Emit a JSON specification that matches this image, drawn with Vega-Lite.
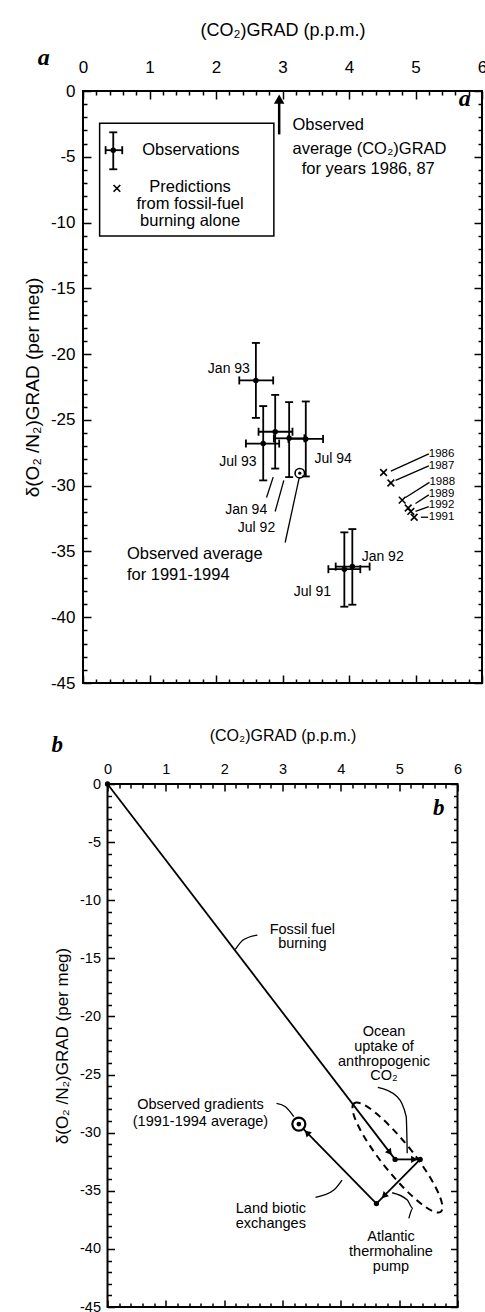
{
  "$schema": "https://vega.github.io/schema/vega-lite/v6.json",
  "background": "white",
  "padding": {"left": 22, "top": 20, "right": 0, "bottom": 0},
  "align": "all",
  "bounds": "flush",
  "center": true,
  "spacing": 101,
  "config": {
    "view": {"stroke": "black", "strokeWidth": 2},
    "axis": {"domain": false, "grid": false, "tickColor": "black", "tickWidth": 1.5, "labelColor": "black", "titleColor": "black", "labelFont": "Liberation Sans", "titleFont": "Liberation Sans", "titleFontWeight": "normal", "labelOverlap": false, "labelFlush": false, "zindex": 1},
    "text": {"font": "Liberation Sans", "color": "black"}
  },
  "vconcat": [
    {
      "width": 399,
      "height": 592,
      "layer": [
        {
          "data": {"values": [
            {"label": "Jan 93", "x": 2.60, "y": -22.0, "xlo": 2.35, "xhi": 2.86, "ylo": -24.85, "yhi": -19.15},
            {"label": "Jul 93", "x": 2.71, "y": -26.8, "xlo": 2.45, "xhi": 2.95, "ylo": -29.6, "yhi": -23.95},
            {"label": "Jan 94", "x": 2.89, "y": -25.9, "xlo": 2.64, "xhi": 3.15, "ylo": -28.7, "yhi": -23.1},
            {"label": "Jul 92", "x": 3.10, "y": -26.4, "xlo": 2.87, "xhi": 3.33, "ylo": -29.35, "yhi": -23.65},
            {"label": "Jul 94", "x": 3.35, "y": -26.45, "xlo": 3.09, "xhi": 3.61, "ylo": -29.3, "yhi": -23.6},
            {"label": "Jul 91", "x": 3.93, "y": -36.35, "xlo": 3.69, "xhi": 4.17, "ylo": -39.2, "yhi": -33.55},
            {"label": "Jan 92", "x": 4.05, "y": -36.15, "xlo": 3.80, "xhi": 4.31, "ylo": -39.05, "yhi": -33.3},
            {"label": "legend", "x": 0.455, "y": -4.5, "xlo": 0.34, "xhi": 0.59, "ylo": -5.95, "yhi": -3.14}
          ]},
          "layer": [
            {
              "mark": {"type": "rule", "strokeWidth": 1.8, "color": "black"},
              "encoding": {
                "x": {"field": "x", "type": "quantitative", "scale": {"domain": [0, 6], "nice": false, "zero": false},
                  "axis": {"orient": "top", "values": [0, 1, 2, 3, 4, 5, 6], "labelExpr": "'' + datum.value", "tickSize": -8,
                    "labelPadding": 22.5, "labelFontSize": 17, "title": "(CO₂)GRAD (p.p.m.)", "titleFontSize": 18, "titlePadding": 19.5}},
                "y": {"field": "ylo", "type": "quantitative", "scale": {"domain": [-45, 0], "nice": false, "zero": false},
                  "axis": {"orient": "left", "values": [-45, -40, -35, -30, -25, -20, -15, -10, -5, 0], "labelExpr": "'' + datum.value", "tickSize": -8,
                    "labelPadding": 16, "labelFontSize": 17, "title": "δ(O₂ /N₂)GRAD (per meg)", "titleFontSize": 19, "titlePadding": 8}},
                "y2": {"field": "yhi"}
              }
            },
            {
              "mark": {"type": "rule", "strokeWidth": 1.8, "color": "black"},
              "encoding": {
                "x": {"field": "xlo", "type": "quantitative", "scale": {"domain": [0, 6], "nice": false, "zero": false},
                  "axis": {"orient": "bottom", "values": [0, 1, 2, 3, 4, 5, 6], "labels": false, "title": null, "tickSize": -8}},
                "x2": {"field": "xhi"},
                "y": {"field": "y", "type": "quantitative", "scale": {"domain": [-45, 0], "nice": false, "zero": false},
                  "axis": {"orient": "right", "values": [-45, -40, -35, -30, -25, -20, -15, -10, -5, 0], "labels": false, "title": null, "tickSize": -8}}
              }
            },
            {
              "mark": {"type": "point", "shape": "stroke", "size": 64, "strokeWidth": 1.8, "color": "black", "opacity": 1},
              "encoding": {
                "x": {"field": "x", "type": "quantitative", "scale": {"domain": [0, 6], "nice": false, "zero": false},
                  "axis": {"orient": "top", "values": [0.2,0.4,0.6,0.8,1.2,1.4,1.6,1.8,2.2,2.4,2.6,2.8,3.2,3.4,3.6,3.8,4.2,4.4,4.6,4.8,5.2,5.4,5.6,5.8], "labels": false, "title": null, "tickSize": -4}},
                "y": {"field": "yhi", "type": "quantitative", "scale": {"domain": [-45, 0], "nice": false, "zero": false},
                  "axis": {"orient": "left", "values": [-44,-43,-42,-41,-39,-38,-37,-36,-34,-33,-32,-31,-29,-28,-27,-26,-24,-23,-22,-21,-19,-18,-17,-16,-14,-13,-12,-11,-9,-8,-7,-6,-4,-3,-2,-1], "labels": false, "title": null, "tickSize": -4}}
              }
            },
            {
              "mark": {"type": "point", "shape": "stroke", "size": 64, "strokeWidth": 1.8, "color": "black", "opacity": 1},
              "encoding": {
                "x": {"field": "x", "type": "quantitative", "scale": {"domain": [0, 6], "nice": false, "zero": false},
                  "axis": {"orient": "bottom", "values": [0.2,0.4,0.6,0.8,1.2,1.4,1.6,1.8,2.2,2.4,2.6,2.8,3.2,3.4,3.6,3.8,4.2,4.4,4.6,4.8,5.2,5.4,5.6,5.8], "labels": false, "title": null, "tickSize": -4}},
                "y": {"field": "ylo", "type": "quantitative", "scale": {"domain": [-45, 0], "nice": false, "zero": false},
                  "axis": {"orient": "right", "values": [-44,-43,-42,-41,-39,-38,-37,-36,-34,-33,-32,-31,-29,-28,-27,-26,-24,-23,-22,-21,-19,-18,-17,-16,-14,-13,-12,-11,-9,-8,-7,-6,-4,-3,-2,-1], "labels": false, "title": null, "tickSize": -4}}
              }
            },
            {
              "mark": {"type": "point", "shape": "stroke", "angle": 90, "size": 64, "strokeWidth": 1.8, "color": "black", "opacity": 1},
              "encoding": {"x": {"field": "xlo", "type": "quantitative", "axis": null}, "y": {"field": "y", "type": "quantitative", "axis": null}}
            },
            {
              "mark": {"type": "point", "shape": "stroke", "angle": 90, "size": 64, "strokeWidth": 1.8, "color": "black", "opacity": 1},
              "encoding": {"x": {"field": "xhi", "type": "quantitative", "axis": null}, "y": {"field": "y", "type": "quantitative", "axis": null}}
            },
            {
              "mark": {"type": "point", "shape": "circle", "size": 30, "filled": true, "color": "black", "opacity": 1},
              "encoding": {"x": {"field": "x", "type": "quantitative", "axis": null}, "y": {"field": "y", "type": "quantitative", "axis": null}}
            }
          ]
        },
        {
          "data": {"values": [
            {"year": "1986", "x": 4.52, "y": -29.0},
            {"year": "1987", "x": 4.63, "y": -29.8},
            {"year": "1988", "x": 4.80, "y": -31.1},
            {"year": "1989", "x": 4.89, "y": -31.7},
            {"year": "1992", "x": 4.93, "y": -31.96},
            {"year": "1991", "x": 4.98, "y": -32.4},
            {"year": "legend", "x": 0.51, "y": -7.4}
          ]},
          "mark": {"type": "point", "shape": "M -1 -1 L 1 1 M -1 1 L 1 -1", "filled": false, "size": 45, "strokeWidth": 1.6, "color": "black", "opacity": 1},
          "encoding": {"x": {"field": "x", "type": "quantitative", "axis": null}, "y": {"field": "y", "type": "quantitative", "axis": null}}
        },
        {
          "data": {"values": [
            {"x": 4.63, "y": -28.9, "x2": 5.20, "y2": -27.58},
            {"x": 4.70, "y": -29.6, "x2": 5.20, "y2": -28.5},
            {"x": 4.85, "y": -30.9, "x2": 5.21, "y2": -29.75},
            {"x": 5.00, "y": -31.35, "x2": 5.20, "y2": -30.7},
            {"x": 5.00, "y": -31.95, "x2": 5.20, "y2": -31.6},
            {"x": 5.08, "y": -32.4, "x2": 5.19, "y2": -32.4},
            {"x": 2.76, "y": -30.9, "x2": 2.86, "y2": -29.35},
            {"x": 2.89, "y": -31.96, "x2": 3.02, "y2": -29.6},
            {"x": 3.04, "y": -34.32, "x2": 3.25, "y2": -29.43}
          ]},
          "mark": {"type": "rule", "strokeWidth": 1.3, "color": "black"},
          "encoding": {
            "x": {"field": "x", "type": "quantitative", "axis": null}, "y": {"field": "y", "type": "quantitative", "axis": null},
            "x2": {"field": "x2"}, "y2": {"field": "y2"}
          }
        },
        {
          "data": {"values": [{"x": 3.26, "y": -29.05}]},
          "layer": [
            {"mark": {"type": "point", "shape": "circle", "size": 90, "filled": false, "strokeWidth": 1.6, "color": "black", "opacity": 1},
             "encoding": {"x": {"field": "x", "type": "quantitative", "axis": null}, "y": {"field": "y", "type": "quantitative", "axis": null}}},
            {"mark": {"type": "point", "shape": "circle", "size": 10, "filled": true, "color": "black", "opacity": 1},
             "encoding": {"x": {"field": "x", "type": "quantitative", "axis": null}, "y": {"field": "y", "type": "quantitative", "axis": null}}}
          ]
        },
        {
          "data": {"values": [{"x": 0.25, "y": -2.45, "x2": 2.87, "y2": -11.02}]},
          "mark": {"type": "rect", "filled": false, "stroke": "black", "strokeWidth": 1.5},
          "encoding": {"x": {"field": "x", "type": "quantitative", "axis": null}, "y": {"field": "y", "type": "quantitative", "axis": null}, "x2": {"field": "x2"}, "y2": {"field": "y2"}}
        },
        {
          "data": {"values": [{"x": 2.95, "y": -3.3, "y2": -0.9}]},
          "mark": {"type": "rule", "strokeWidth": 2.5, "color": "black"},
          "encoding": {"x": {"field": "x", "type": "quantitative", "axis": null}, "y": {"field": "y", "type": "quantitative", "axis": null}, "y2": {"field": "y2"}}
        },
        {
          "data": {"values": [{"x": 2.95, "y": -0.62}]},
          "mark": {"type": "point", "shape": "triangle-up", "size": 110, "filled": true, "color": "black", "opacity": 1},
          "encoding": {"x": {"field": "x", "type": "quantitative", "axis": null}, "y": {"field": "y", "type": "quantitative", "axis": null}}
        },
        {
          "data": {"values": [
            {"text": "Jan 93", "x": 2.51, "y": -21.15},
            {"text": "Jul 93", "x": 2.61, "y": -28.2},
            {"text": "Jan 94", "x": 2.77, "y": -31.85},
            {"text": "Jul 92", "x": 2.89, "y": -33.2},
            {"text": "Jul 91", "x": 3.73, "y": -38.05}
          ]},
          "mark": {"type": "text", "align": "right", "baseline": "middle", "fontSize": 14},
          "encoding": {"x": {"field": "x", "type": "quantitative", "axis": null}, "y": {"field": "y", "type": "quantitative", "axis": null}, "text": {"field": "text"}}
        },
        {
          "data": {"values": [
            {"text": "Jul 94", "x": 3.48, "y": -27.95},
            {"text": "Jan 92", "x": 4.19, "y": -35.45}
          ]},
          "mark": {"type": "text", "align": "left", "baseline": "middle", "fontSize": 14},
          "encoding": {"x": {"field": "x", "type": "quantitative", "axis": null}, "y": {"field": "y", "type": "quantitative", "axis": null}, "text": {"field": "text"}}
        },
        {
          "data": {"values": [
            {"text": "1986", "x": 5.20, "y": -27.58},
            {"text": "1987", "x": 5.20, "y": -28.5},
            {"text": "1988", "x": 5.21, "y": -29.75},
            {"text": "1989", "x": 5.20, "y": -30.6},
            {"text": "1992", "x": 5.20, "y": -31.5},
            {"text": "1991", "x": 5.20, "y": -32.4}
          ]},
          "mark": {"type": "text", "align": "left", "baseline": "middle", "fontSize": 11.5},
          "encoding": {"x": {"field": "x", "type": "quantitative", "axis": null}, "y": {"field": "y", "type": "quantitative", "axis": null}, "text": {"field": "text"}}
        },
        {
          "data": {"values": [
            {"text": "Observed average", "x": 0.66, "y": -35.2},
            {"text": "for 1991-1994", "x": 0.66, "y": -36.8},
            {"text": "Observations", "x": 0.89, "y": -4.48},
            {"text": "Observed", "x": 3.15, "y": -2.6},
            {"text": "average (CO₂)GRAD", "x": 3.15, "y": -4.4},
            {"text": "for years 1986, 87", "x": 3.29, "y": -5.9}
          ]},
          "mark": {"type": "text", "align": "left", "baseline": "middle", "fontSize": 16.5},
          "encoding": {"x": {"field": "x", "type": "quantitative", "axis": null}, "y": {"field": "y", "type": "quantitative", "axis": null}, "text": {"field": "text"}}
        },
        {
          "data": {"values": [
            {"text": "Predictions", "x": 1.61, "y": -7.3},
            {"text": "from fossil-fuel", "x": 1.61, "y": -8.6},
            {"text": "burning alone", "x": 1.61, "y": -9.9}
          ]},
          "mark": {"type": "text", "align": "center", "baseline": "middle", "fontSize": 16.5},
          "encoding": {"x": {"field": "x", "type": "quantitative", "axis": null}, "y": {"field": "y", "type": "quantitative", "axis": null}, "text": {"field": "text"}}
        },
        {
          "data": {"values": [
            {"text": "a", "x": 5.74, "y": -0.6},
            {"text": "a", "x": -0.59, "y": 2.5}
          ]},
          "mark": {"type": "text", "align": "center", "baseline": "middle", "fontSize": 24, "font": "Liberation Serif", "fontStyle": "italic", "fontWeight": "bold"},
          "encoding": {"x": {"field": "x", "type": "quantitative", "axis": null}, "y": {"field": "y", "type": "quantitative", "axis": null}, "text": {"field": "text"}}
        }
      ],
      "resolve": {"axis": {"x": "independent", "y": "independent"}}
    },
    {
      "width": 350,
      "height": 523,
      "layer": [
        {
          "data": {"values": [
            {"step": "Fossil fuel burning", "x": 0, "y": 0, "x2": 4.93, "y2": -32.3},
            {"step": "Ocean uptake", "x": 4.93, "y": -32.3, "x2": 5.36, "y2": -32.3},
            {"step": "Atlantic thermohaline pump", "x": 5.36, "y": -32.3, "x2": 4.61, "y2": -36.1},
            {"step": "Land biotic exchanges", "x": 4.61, "y": -36.1, "x2": 3.36, "y2": -29.7}
          ]},
          "mark": {"type": "rule", "strokeWidth": 1.8, "color": "black"},
          "encoding": {
            "x": {"field": "x", "type": "quantitative", "scale": {"domain": [0, 6], "nice": false, "zero": false},
              "axis": {"orient": "top", "values": [0, 1, 2, 3, 4, 5, 6], "labelExpr": "'' + datum.value", "tickSize": -7,
                "labelPadding": 15, "labelFontSize": 14.5, "title": "(CO₂)GRAD (p.p.m.)", "titleFontSize": 16, "titlePadding": 18}},
            "y": {"field": "y", "type": "quantitative", "scale": {"domain": [-45, 0], "nice": false, "zero": false},
              "axis": {"orient": "left", "values": [-45, -40, -35, -30, -25, -20, -15, -10, -5, 0], "labelExpr": "'' + datum.value", "tickSize": -7,
                "labelPadding": 14, "labelFontSize": 14.5, "title": "δ(O₂ /N₂)GRAD (per meg)", "titleFontSize": 17, "titlePadding": 8}},
            "x2": {"field": "x2"}, "y2": {"field": "y2"}
          }
        },
        {
          "data": {"values": [
            {"x": 0, "y": 0}, {"x": 4.93, "y": -32.3}, {"x": 5.36, "y": -32.3}, {"x": 4.61, "y": -36.1}
          ]},
          "mark": {"type": "point", "shape": "circle", "size": 28, "filled": true, "color": "black", "opacity": 1},
          "encoding": {
            "x": {"field": "x", "type": "quantitative", "scale": {"domain": [0, 6], "nice": false, "zero": false},
              "axis": {"orient": "bottom", "values": [0, 1, 2, 3, 4, 5, 6], "labels": false, "title": null, "tickSize": -7}},
            "y": {"field": "y", "type": "quantitative", "scale": {"domain": [-45, 0], "nice": false, "zero": false},
              "axis": {"orient": "right", "values": [-45, -40, -35, -30, -25, -20, -15, -10, -5, 0], "labels": false, "title": null, "tickSize": -7}}
          }
        },
        {
          "data": {"values": [{"x": 4.84, "y": -31.71}]},
          "mark": {"type": "point", "shape": "triangle-up", "angle": 142.5, "size": 55, "filled": true, "color": "black", "opacity": 1},
          "encoding": {
            "x": {"field": "x", "type": "quantitative", "scale": {"domain": [0, 6], "nice": false, "zero": false},
              "axis": {"orient": "top", "values": [0.2,0.4,0.6,0.8,1.2,1.4,1.6,1.8,2.2,2.4,2.6,2.8,3.2,3.4,3.6,3.8,4.2,4.4,4.6,4.8,5.2,5.4,5.6,5.8], "labels": false, "title": null, "tickSize": -4}},
            "y": {"field": "y", "type": "quantitative", "scale": {"domain": [-45, 0], "nice": false, "zero": false},
              "axis": {"orient": "left", "values": [-44,-43,-42,-41,-39,-38,-37,-36,-34,-33,-32,-31,-29,-28,-27,-26,-24,-23,-22,-21,-19,-18,-17,-16,-14,-13,-12,-11,-9,-8,-7,-6,-4,-3,-2,-1], "labels": false, "title": null, "tickSize": -4}}
          }
        },
        {
          "data": {"values": [{"x": 5.26, "y": -32.3}]},
          "mark": {"type": "point", "shape": "triangle-up", "angle": 90, "size": 55, "filled": true, "color": "black", "opacity": 1},
          "encoding": {
            "x": {"field": "x", "type": "quantitative", "scale": {"domain": [0, 6], "nice": false, "zero": false},
              "axis": {"orient": "bottom", "values": [0.2,0.4,0.6,0.8,1.2,1.4,1.6,1.8,2.2,2.4,2.6,2.8,3.2,3.4,3.6,3.8,4.2,4.4,4.6,4.8,5.2,5.4,5.6,5.8], "labels": false, "title": null, "tickSize": -4}},
            "y": {"field": "y", "type": "quantitative", "scale": {"domain": [-45, 0], "nice": false, "zero": false},
              "axis": {"orient": "right", "values": [-44,-43,-42,-41,-39,-38,-37,-36,-34,-33,-32,-31,-29,-28,-27,-26,-24,-23,-22,-21,-19,-18,-17,-16,-14,-13,-12,-11,-9,-8,-7,-6,-4,-3,-2,-1], "labels": false, "title": null, "tickSize": -4}}
          }
        },
        {
          "data": {"values": [{"x": 4.74, "y": -35.44}]},
          "mark": {"type": "point", "shape": "triangle-up", "angle": 224.7, "size": 55, "filled": true, "color": "black", "opacity": 1},
          "encoding": {"x": {"field": "x", "type": "quantitative", "axis": null}, "y": {"field": "y", "type": "quantitative", "axis": null}}
        },
        {
          "data": {"values": [{"x": 3.42, "y": -30.0}]},
          "mark": {"type": "point", "shape": "triangle-up", "angle": 315.3, "size": 55, "filled": true, "color": "black", "opacity": 1},
          "encoding": {"x": {"field": "x", "type": "quantitative", "axis": null}, "y": {"field": "y", "type": "quantitative", "axis": null}}
        },
        {
          "data": {"values": [{"x": 4.97, "y": -32.14}]},
          "mark": {"type": "point", "shape": "M -1 0 A 1 0.22 0 1 1 1 0 A 1 0.22 0 1 1 -1 0 Z", "angle": 51.3, "size": 19265, "filled": false, "strokeWidth": 2, "strokeDash": [7, 5], "color": "black", "opacity": 1},
          "encoding": {"x": {"field": "x", "type": "quantitative", "axis": null}, "y": {"field": "y", "type": "quantitative", "axis": null}}
        },
        {
          "data": {"values": [
            {"curve": "fossil", "i": 0, "x": 2.19, "y": -14.24},
            {"curve": "fossil", "i": 1, "x": 2.33, "y": -13.4},
            {"curve": "fossil", "i": 2, "x": 2.57, "y": -13.0},
            {"curve": "ocean", "i": 0, "x": 4.634, "y": -26.1},
            {"curve": "ocean", "i": 1, "x": 4.967, "y": -26.91},
            {"curve": "ocean", "i": 2, "x": 5.121, "y": -28.63},
            {"curve": "ocean", "i": 3, "x": 5.138, "y": -31.78},
            {"curve": "observed", "i": 0, "x": 2.897, "y": -27.48},
            {"curve": "observed", "i": 1, "x": 3.05, "y": -27.77},
            {"curve": "observed", "i": 2, "x": 3.194, "y": -28.63},
            {"curve": "land", "i": 0, "x": 3.566, "y": -35.57},
            {"curve": "land", "i": 1, "x": 3.88, "y": -34.94},
            {"curve": "land", "i": 2, "x": 4.02, "y": -34.08},
            {"curve": "atlantic", "i": 0, "x": 4.88, "y": -35.17},
            {"curve": "atlantic", "i": 1, "x": 5.14, "y": -35.8},
            {"curve": "atlantic", "i": 2, "x": 5.234, "y": -36.52},
            {"curve": "atlantic", "i": 3, "x": 5.166, "y": -37.38}
          ]},
          "mark": {"type": "line", "interpolate": "monotone", "strokeWidth": 1.3, "color": "black"},
          "encoding": {
            "x": {"field": "x", "type": "quantitative", "axis": null}, "y": {"field": "y", "type": "quantitative", "axis": null},
            "detail": {"field": "curve"}, "order": {"field": "i"}
          }
        },
        {
          "data": {"values": [{"x": 3.28, "y": -29.26}]},
          "layer": [
            {"mark": {"type": "point", "shape": "circle", "size": 170, "filled": false, "strokeWidth": 2.2, "color": "black", "opacity": 1},
             "encoding": {"x": {"field": "x", "type": "quantitative", "axis": null}, "y": {"field": "y", "type": "quantitative", "axis": null}}},
            {"mark": {"type": "point", "shape": "circle", "size": 22, "filled": true, "color": "black", "opacity": 1},
             "encoding": {"x": {"field": "x", "type": "quantitative", "axis": null}, "y": {"field": "y", "type": "quantitative", "axis": null}}}
          ]
        },
        {
          "data": {"values": [
            {"text": "Fossil fuel", "x": 3.34, "y": -12.56},
            {"text": "burning", "x": 3.34, "y": -13.8},
            {"text": "Ocean", "x": 4.74, "y": -21.3},
            {"text": "uptake of", "x": 4.74, "y": -22.6},
            {"text": "anthropogenic", "x": 4.74, "y": -23.9},
            {"text": "CO₂", "x": 4.74, "y": -25.1},
            {"text": "Observed gradients", "x": 1.594, "y": -27.62},
            {"text": "(1991-1994 average)", "x": 1.594, "y": -29.06},
            {"text": "Land biotic", "x": 2.80, "y": -36.6},
            {"text": "exchanges", "x": 2.80, "y": -37.87},
            {"text": "Atlantic", "x": 4.86, "y": -38.95},
            {"text": "thermohaline", "x": 4.86, "y": -40.25},
            {"text": "pump", "x": 4.86, "y": -41.55}
          ]},
          "mark": {"type": "text", "align": "center", "baseline": "middle", "fontSize": 14.5},
          "encoding": {"x": {"field": "x", "type": "quantitative", "axis": null}, "y": {"field": "y", "type": "quantitative", "axis": null}, "text": {"field": "text"}}
        },
        {
          "data": {"values": [
            {"text": "b", "x": 5.68, "y": -2.1},
            {"text": "b", "x": -0.86, "y": 3.36}
          ]},
          "mark": {"type": "text", "align": "center", "baseline": "middle", "fontSize": 23, "font": "Liberation Serif", "fontStyle": "italic", "fontWeight": "bold"},
          "encoding": {"x": {"field": "x", "type": "quantitative", "axis": null}, "y": {"field": "y", "type": "quantitative", "axis": null}, "text": {"field": "text"}}
        }
      ],
      "resolve": {"axis": {"x": "independent", "y": "independent"}}
    }
  ]
}
